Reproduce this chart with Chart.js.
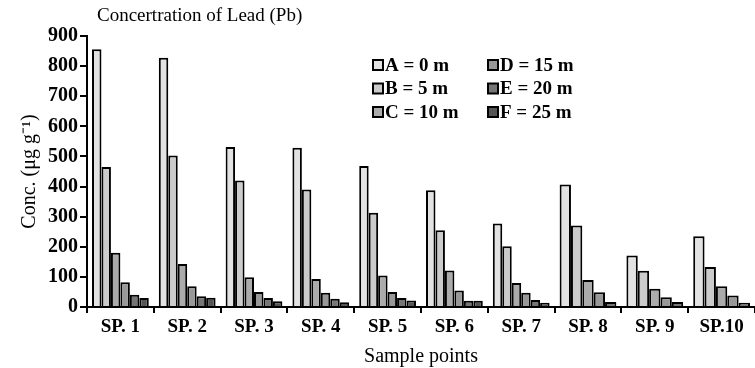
<!DOCTYPE html>
<html>
<head>
<meta charset="utf-8">
<script src="https://cdn.jsdelivr.net/npm/chart.js@4"></script>
<style>
  html, body { margin: 0; padding: 0; background: #fff; }
  #wrap { width: 755px; height: 368px; position: relative; }
</style>
</head>
<body>
<div id="wrap"><canvas id="diagram"></canvas></div>
<script>
// data
const points = ["SP. 1", "SP. 2", "SP. 3", "SP. 4", "SP. 5", "SP. 6", "SP. 7", "SP. 8", "SP. 9", "SP.10"];
const seriesNames = ["A = 0 m", "B = 5 m", "C = 10 m", "D = 15 m", "E = 20 m", "F = 25 m"];
const valA = [856, 828, 531, 529, 468, 388, 277, 407, 171, 235];
const valB = [465, 503, 420, 390, 313, 255, 202, 271, 120, 133];
const valC = [180, 143, 99, 93, 105, 121, 80, 90, 61, 69];
const valD = [82, 69, 50, 47, 50, 55, 47, 49, 32, 38];
const valE = [41, 36, 30, 27, 30, 21, 23, 17, 17, 14];
const valF = [30, 31, 19, 16, 22, 21, 14, null, null, null];
const yTicks = [0, 100, 200, 300, 400, 500, 600, 700, 800, 900];

const fills = ["#e2e2e2", "#cbcbcb", "#ababab", "#989898", "#767676", "#555555"];
const serif = "'Liberation Serif', 'Times New Roman', serif";

const allVals = [valA, valB, valC, valD, valE, valF];
const sets = allVals.map(function (v, i) {
    return {
        label: seriesNames[i],
        data: v,
        backgroundColor: fills[i],
        borderColor: "#000",
        borderWidth: 2,
        borderSkipped: "bottom",
        categoryPercentage: 0.85,
        barPercentage: 1.0
    };
});

// title + 2-column legend drawn by hand (chart.js legend can't do column order)
const extras = {
    id: "extras",
    afterDraw(chart) {
        const c = chart.ctx;
        c.save();
        c.fillStyle = "#000";
        c.textBaseline = "middle";
        c.font = "19px " + serif;
        c.fillText("Concertration of Lead (Pb)", 97, 16);

        c.font = "bold 19px " + serif;
        chart.data.datasets.forEach(function (ds, i) {
            const col = Math.floor(i / 3), row = i % 3;
            const x = 373 + col * 115, y = 65 + row * 23.5;
            c.fillStyle = ds.backgroundColor;
            c.fillRect(x, y - 5, 10, 10);
            c.lineWidth = 2;
            c.strokeStyle = "#000";
            c.strokeRect(x, y - 5, 10, 10);
            c.fillStyle = "#000";
            c.fillText(ds.label, x + 12, y + 1);
        });
        c.restore();
    }
};

const chart1 = new Chart(document.getElementById("diagram"), {
    type: "bar",
    data: { labels: points, datasets: sets },
    plugins: [extras],
    options: {
        responsive: true,
        maintainAspectRatio: false,
        animation: false,
        skipNull: true,
        layout: { padding: { top: 36, right: 0, left: 14, bottom: 1 } },
        plugins: { legend: { display: false }, tooltip: { enabled: false } },
        scales: {
            x: {
                offset: true,
                grid: { offset: true, drawOnChartArea: false, color: "#000", lineWidth: 2, tickLength: 6 },
                border: { color: "#000", width: 2 },
                ticks: { color: "#000", font: { family: serif, size: 19, weight: "bold", lineHeight: 1.0 }, padding: 5, maxRotation: 0 },
                title: { display: true, text: "Sample points", color: "#000", font: { family: serif, size: 20, lineHeight: 1.0 }, padding: { top: 5, bottom: 0 } }
            },
            y: {
                min: 0,
                max: 900,
                afterBuildTicks(axis) { axis.ticks = yTicks.map(v => ({ value: v })); },
                grid: { drawOnChartArea: false, color: "#000", lineWidth: 2, tickLength: 7 },
                border: { color: "#000", width: 2 },
                ticks: { color: "#000", font: { family: serif, size: 20, weight: "bold" }, padding: 2 },
                title: { display: true, text: "Conc. (\u03bcg g\u207b\u00b9)", color: "#000", font: { family: serif, size: 20 }, padding: { bottom: 4 } }
            }
        }
    }
});
</script>
</body>
</html>
